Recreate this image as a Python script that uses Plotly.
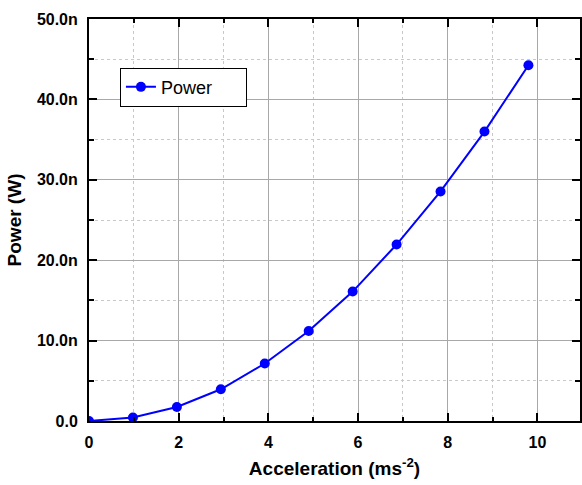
import plotly.graph_objects as go

# Acceleration (m s^-2) and generated power (nW)
acceleration = [0.0, 0.98, 1.96, 2.94, 3.92, 4.90, 5.88, 6.86, 7.84, 8.82, 9.80]
power_nw = [0.0, 0.44, 1.75, 3.95, 7.15, 11.2, 16.1, 21.95, 28.55, 36.0, 44.25]

x_tick_vals = [0, 2, 4, 6, 8, 10]
y_tick_vals_nw = [0, 10, 20, 30, 40, 50]
y_tick_text = ["0.0", "10.0n", "20.0n", "30.0n", "40.0n", "50.0n"]

power_w = [p * 1e-9 for p in power_nw]
y_tick_vals = [v * 1e-9 for v in y_tick_vals_nw]

FONT = "Arial, Liberation Sans, sans-serif"
BLUE = "#0000ff"

fig = go.Figure()
fig.add_trace(go.Scatter(
    x=acceleration, y=power_w, mode="lines+markers", name="Power",
    line=dict(color=BLUE, width=2),
    marker=dict(color=BLUE, size=10, symbol="circle"),
))

axis_common = dict(
    showline=True, linecolor="black", linewidth=2, mirror="ticks",
    ticks="inside", ticklen=8, tickwidth=2, tickcolor="black",
    showgrid=True, gridcolor="#a8a8a8", gridwidth=1,
    zeroline=False,
    tickfont=dict(family=FONT, size=16, color="black", weight="bold"),
)

fig.update_xaxes(
    **axis_common,
    range=[0, 10.95], tickmode="array", tickvals=x_tick_vals,
    ticklabelstandoff=6,
    minor=dict(dtick=1, tick0=0, ticks="inside", ticklen=4, tickwidth=2,
               tickcolor="black", showgrid=True, gridcolor="#c8c8c8",
               griddash="dot", gridwidth=1),
    title=dict(text="Acceleration (ms<sup>-2</sup>)", standoff=11,
               font=dict(family=FONT, size=19, color="black", weight="bold")),
)
fig.update_yaxes(
    **axis_common,
    range=[0, 50e-9], tickmode="array", tickvals=y_tick_vals, ticktext=y_tick_text,
    ticklabelstandoff=6,
    minor=dict(dtick=5e-9, tick0=0, ticks="inside", ticklen=5, tickwidth=2,
               tickcolor="black", showgrid=True, gridcolor="#c8c8c8",
               griddash="dot", gridwidth=1),
    title=dict(text="Power (W)", standoff=10,
               font=dict(family=FONT, size=19, color="black", weight="bold")),
)

fig.update_layout(
    width=582, height=485,
    margin=dict(l=89, r=0, t=19, b=64),
    paper_bgcolor="white", plot_bgcolor="white",
    showlegend=True,
    legend=dict(
        orientation="h",
        x=0.063, y=0.879, xanchor="left", yanchor="top",
        bgcolor="white", bordercolor="black", borderwidth=1,
        font=dict(family=FONT, size=18, color="black"),
        entrywidth=80, entrywidthmode="pixels",
    ),
)

fig.write_html("out.html")
